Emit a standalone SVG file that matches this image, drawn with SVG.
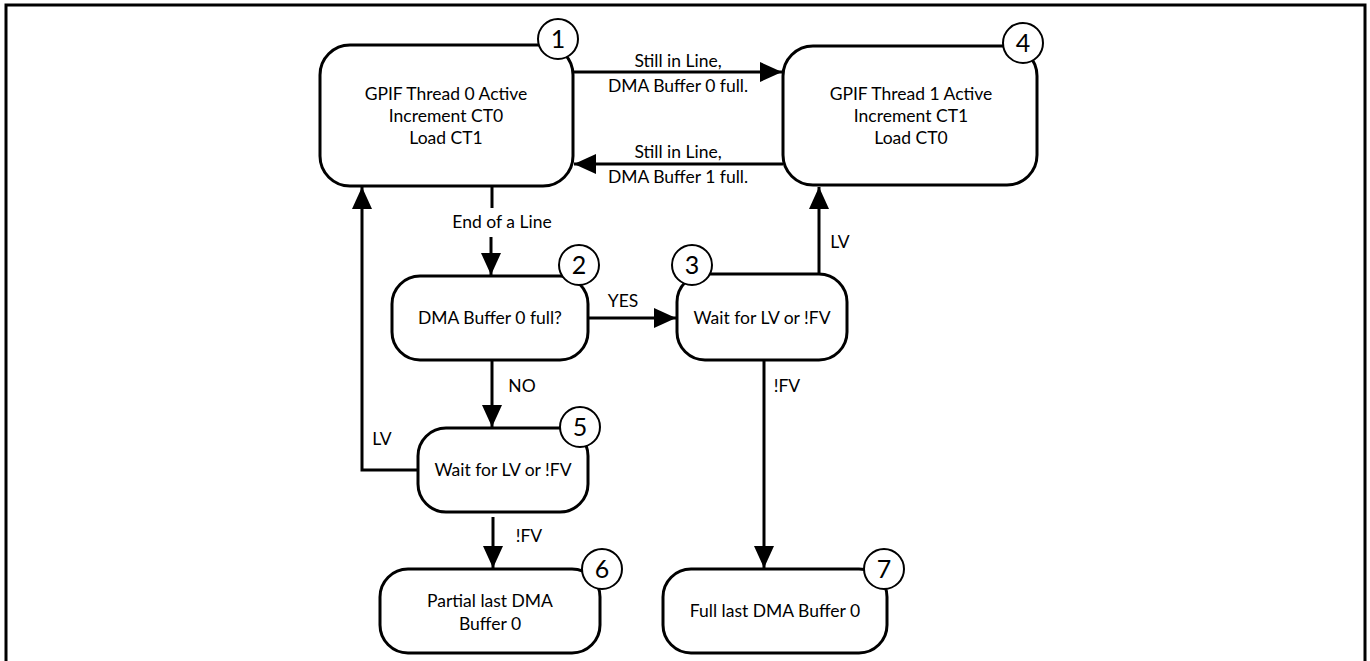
<svg xmlns="http://www.w3.org/2000/svg" width="1370" height="661" viewBox="0 0 1370 661">
<style>
.box{fill:#fff;stroke:#000;stroke-width:3}
.num{fill:#fff;stroke:#000;stroke-width:2}
.t{font-family:Lato,"Liberation Sans",sans-serif;font-size:17.5px;fill:#000;text-anchor:middle}
.n{font-family:Lato,"Liberation Sans",sans-serif;font-size:25px;fill:#000;text-anchor:middle}
.c{fill:none;stroke:#000;stroke-width:3}
</style>
<defs>
<marker id="ah" markerWidth="22" markerHeight="20" refX="22" refY="10" orient="auto" markerUnits="userSpaceOnUse">
<path d="M0,0 L22,10 L0,20 Z" fill="#000"/>
</marker>
</defs>
<rect width="1370" height="661" fill="#fff"/>
<path d="M6,661 V5 H1365 V661" fill="none" stroke="#000" stroke-width="3"/>

<g id="connectors">
<line class="c" x1="573" y1="72" x2="782" y2="72" marker-end="url(#ah)"/>
<text class="t" x="678" y="67">Still in Line,</text>
<text class="t" x="678" y="92">DMA Buffer 0 full.</text>
<line class="c" x1="783" y1="164" x2="574" y2="164" marker-end="url(#ah)"/>
<text class="t" x="678" y="158">Still in Line,</text>
<text class="t" x="678" y="183">DMA Buffer 1 full.</text>
<line class="c" x1="492" y1="186" x2="492" y2="208"/>
<text class="t" x="502" y="228">End of a Line</text>
<line class="c" x1="491" y1="237" x2="491" y2="275" marker-end="url(#ah)"/>
<line class="c" x1="588" y1="318" x2="676" y2="318" marker-end="url(#ah)"/>
<text class="t" x="623" y="307">YES</text>
<line class="c" x1="492" y1="360" x2="492" y2="427" marker-end="url(#ah)"/>
<text class="t" x="522" y="392">NO</text>
<line class="c" x1="819" y1="274" x2="819" y2="187" marker-end="url(#ah)"/>
<text class="t" x="840" y="248">LV</text>
<line class="c" x1="764" y1="360" x2="764" y2="568" marker-end="url(#ah)"/>
<text class="t" x="787" y="392">!FV</text>
<polyline class="c" points="418,470 362,470 362,187" marker-end="url(#ah)"/>
<text class="t" x="382" y="445">LV</text>
<line class="c" x1="493" y1="517" x2="493" y2="568" marker-end="url(#ah)"/>
<text class="t" x="529" y="542">!FV</text>
</g>

<g id="node1">
<rect class="box" x="320" y="45" width="253" height="141" rx="30"/>
<text class="t" x="446" y="100">GPIF Thread 0 Active</text>
<text class="t" x="446" y="122">Increment CT0</text>
<text class="t" x="446" y="144">Load CT1</text>
<circle class="num" cx="558" cy="39" r="20"/>
<text class="n" x="558" y="48">1</text>
</g>
<g id="node4">
<rect class="box" x="783" y="46" width="254" height="139" rx="30"/>
<text class="t" x="911" y="100">GPIF Thread 1 Active</text>
<text class="t" x="911" y="122">Increment CT1</text>
<text class="t" x="911" y="144">Load CT0</text>
<circle class="num" cx="1023" cy="43" r="20"/>
<text class="n" x="1023" y="52">4</text>
</g>
<g id="node2">
<rect class="box" x="392" y="276" width="196" height="84" rx="28"/>
<text class="t" x="490" y="324">DMA Buffer 0 full?</text>
<circle class="num" cx="579" cy="265" r="20"/>
<text class="n" x="579" y="274">2</text>
</g>
<g id="node3">
<rect class="box" x="677" y="274" width="170" height="86" rx="28"/>
<text class="t" x="762" y="324">Wait for LV or !FV</text>
<circle class="num" cx="692" cy="265" r="20"/>
<text class="n" x="692" y="274">3</text>
</g>
<g id="node5">
<rect class="box" x="418" y="428" width="170" height="84" rx="28"/>
<text class="t" x="503" y="476">Wait for LV or !FV</text>
<circle class="num" cx="580" cy="427" r="20"/>
<text class="n" x="580" y="436">5</text>
</g>
<g id="node6">
<rect class="box" x="380" y="569" width="220" height="84" rx="28"/>
<text class="t" x="490" y="607">Partial last DMA</text>
<text class="t" x="490" y="630">Buffer 0</text>
<circle class="num" cx="602" cy="569" r="20"/>
<text class="n" x="602" y="578">6</text>
</g>
<g id="node7">
<rect class="box" x="663" y="569" width="224" height="84" rx="28"/>
<text class="t" x="775" y="617">Full last DMA Buffer 0</text>
<circle class="num" cx="884" cy="569" r="20"/>
<text class="n" x="884" y="578">7</text>
</g>
</svg>
